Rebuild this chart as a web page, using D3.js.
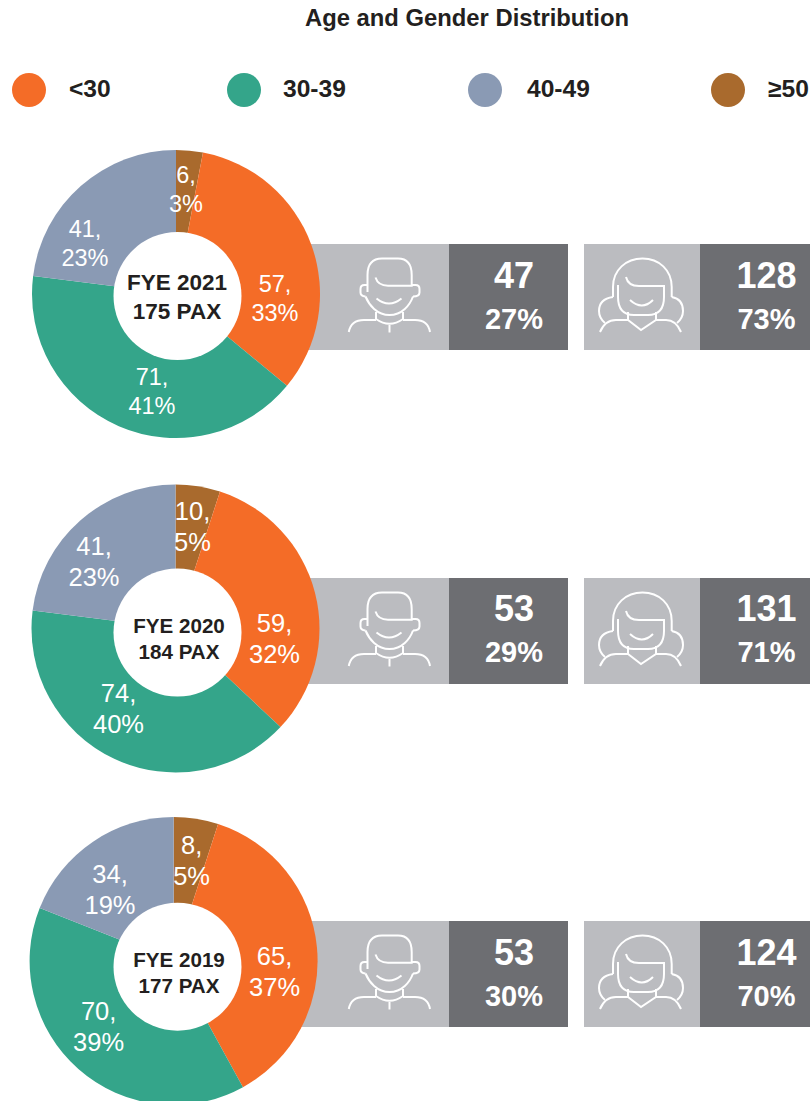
<!DOCTYPE html>
<html>
<head>
<meta charset="utf-8">
<script src="https://cdnjs.cloudflare.com/ajax/libs/d3/7.8.5/d3.min.js"></script>
<style>
  html, body { margin: 0; padding: 0; background: #fff; }
  svg { display: block; }
  text { font-family: "Liberation Sans", Arial, sans-serif; }
</style>
</head>
<body>
<div id="chart"></div>
<script>
var ageGroups = ["<30", "30-39", "40-49", "\u226550"];
var years = ["FYE 2021", "FYE 2020", "FYE 2019"];
var pax = [175, 184, 177];

// counts and percentages, in ageGroups order
var counts2021 = [57, 71, 41, 6],
    counts2020 = [59, 74, 41, 10],
    counts2019 = [65, 70, 34, 8];
var shares2021 = [33, 41, 23, 3],
    shares2020 = [32, 40, 23, 5],
    shares2019 = [37, 39, 19, 5];

var maleCounts = [47, 53, 53],
    maleShares = [27, 29, 30];
var femaleCounts = [128, 131, 124],
    femaleShares = [73, 71, 70];

var ageCounts = [counts2021, counts2020, counts2019];
var ageShares = [shares2021, shares2020, shares2019];

// the pies start with the oldest group at twelve o'clock
var sliceOrder = [3, 0, 1, 2];

var width = 810,
    height = 1101,
    outerRadius = 144,
    holeRadius = 64,
    panelHeight = 106;

var colour = d3.scaleOrdinal()
  .domain(ageGroups)
  .range(["#f46c27", "#34a58a", "#8a9ab4", "#a96a2d"]);

var legendX = d3.scaleOrdinal().domain(ageGroups).range([29, 244, 485, 728]);
var legendTextX = d3.scaleOrdinal().domain(ageGroups).range([69, 283, 527, 768]);

// layout per pie, the source artwork is hand placed so nothing lines up exactly
var pieCentres = [[176, 294], [175.5, 628.5], [173.6, 961]];
var holeCentres = [[177.5, 296], [177.5, 632.5], [177.5, 966.7]];
var panelTops = [244, 578, 921];
var countBase = [288, 621, 965],
    shareBase = [329, 662, 1006];
var labelFont = [23.5, 25.5, 25.5],
    labelGap = [28.5, 31, 31];
var centreFont = [22.5, 20.6, 20.6],
    centreX = [177, 179, 179],
    centreBase = [[290, 319], [633, 659], [966.7, 992.7]];

// first line of each slice label, offset from the pie centre, in ageGroups order
var labelSpots = [
  [[99, -2], [-24, 91], [-91, -57], [10, -111]],
  [[99, 3], [-57, 73], [-81.5, -73.5], [17, -108.5]],
  [[101, 4], [-75, 59], [-63.6, -78], [18, -107]]
];

var maleIcon = [
  "M27.5 47V30Q27.5 13.5 42 13.5H58Q71.7 13.5 71.7 30V40.7H48Q38 40.7 35.5 32.5",
  "M27.5 40H24.5Q20.5 40 20.5 44V47.5Q20.5 51 25.5 51.5",
  "M71.7 40H75.5Q79.5 40 79.5 44V47.5Q79.5 51.5 73 51.5",
  "M25.5 51.5C29 60 37 70 49.5 70C62 70 70 60 73 51.5",
  "M36.5 53.5Q49 63.5 61.5 53.5",
  "M36 67V74Q49.5 83.5 63 74V67",
  "M8.8 87Q11 75 24 75H36",
  "M63 75H75Q88 75 90 87",
  "M49.5 80V87.5"
];

var femaleIcon = [
  "M23 52V42C23 25 36 13.5 52.5 13.5C69 13.5 81.7 25 81.7 42V52",
  "M23 52Q9 54 9 66Q9 73 15 78",
  "M81.7 52Q93 54 93 66Q93 73 87 78",
  "M36 32Q38 41 49 41H74V52Q74 70 58 70H44Q28 70 28 52V40",
  "M40 55Q52 66 63 55",
  "M38 67V75",
  "M66 67V75",
  "M10 87Q15 75 26 75H38L51 85L66 75H76Q86 75 91 87"
];

var svg = d3.select("#chart").append("svg")
  .attr("width", width)
  .attr("height", height);

svg.append("text")
  .attr("x", 467)
  .attr("y", 26)
  .attr("text-anchor", "middle")
  .attr("font-size", 23.8)
  .attr("font-weight", "bold")
  .attr("fill", "#231f20")
  .text("Age and Gender Distribution");

var legend = svg.selectAll(".legend")
  .data(ageGroups)
  .enter().append("g")
  .attr("class", "legend");

legend.append("circle")
  .attr("cx", function (d) { return legendX(d); })
  .attr("cy", 90)
  .attr("r", 17)
  .attr("fill", function (d) { return colour(d); });

legend.append("text")
  .attr("x", function (d) { return legendTextX(d); })
  .attr("y", 97)
  .attr("font-size", 24.6)
  .attr("font-weight", "bold")
  .attr("fill", "#231f20")
  .text(function (d) { return d; });

function drawPanel(g, x, lightWidth, darkWidth, top, mid, i, count, share) {
  g.append("rect")
    .attr("x", x)
    .attr("y", top)
    .attr("width", lightWidth)
    .attr("height", panelHeight)
    .attr("fill", "#bbbcc0");
  g.append("rect")
    .attr("x", x + lightWidth)
    .attr("y", top)
    .attr("width", darkWidth)
    .attr("height", panelHeight)
    .attr("fill", "#6d6e72");
  g.append("text")
    .attr("x", mid)
    .attr("y", countBase[i])
    .attr("text-anchor", "middle")
    .attr("font-size", 36)
    .attr("font-weight", "bold")
    .attr("fill", "#fff")
    .text(count);
  g.append("text")
    .attr("x", mid)
    .attr("y", shareBase[i])
    .attr("text-anchor", "middle")
    .attr("font-size", 29)
    .attr("font-weight", "bold")
    .attr("fill", "#fff")
    .text(share + "%");
}

function drawIcon(g, paths, x, y) {
  g.append("g")
    .attr("transform", "translate(" + x + "," + y + ")")
    .selectAll("path")
    .data(paths)
    .enter().append("path")
    .attr("d", function (d) { return d; })
    .attr("fill", "none")
    .attr("stroke", "#fff")
    .attr("stroke-width", 2);
}

// the wedges follow the rounded percentages, not the head counts
var pie = d3.pie()
  .sort(null)
  .value(function (d) { return d.share; });

var arc = d3.arc()
  .innerRadius(0)
  .outerRadius(outerRadius);

years.forEach(function (year, i) {
  var row = svg.append("g").attr("class", "row");
  var top = panelTops[i];

  // grey strips go first, the pie sits on top of them
  drawPanel(row, 290, 159, 119, top, 514, i, maleCounts[i], maleShares[i]);
  drawPanel(row, 584, 116, 110, top, 766.5, i, femaleCounts[i], femaleShares[i]);
  drawIcon(row, maleIcon, 340, top + 1);
  drawIcon(row, femaleIcon, 590, top + 1);

  var slices = sliceOrder.map(function (k) {
    return { group: ageGroups[k], index: k, count: ageCounts[i][k], share: ageShares[i][k] };
  });

  var pieG = row.append("g")
    .attr("transform", "translate(" + pieCentres[i][0] + "," + pieCentres[i][1] + ")");

  pieG.selectAll("path")
    .data(pie(slices))
    .enter().append("path")
    .attr("d", arc)
    .attr("fill", function (d) { return colour(d.data.group); });

  var label = pieG.selectAll("text")
    .data(slices)
    .enter().append("text")
    .attr("text-anchor", "middle")
    .attr("font-size", labelFont[i])
    .attr("fill", "#fff");

  label.append("tspan")
    .attr("x", function (d) { return labelSpots[i][d.index][0]; })
    .attr("y", function (d) { return labelSpots[i][d.index][1]; })
    .text(function (d) { return d.count + ","; });

  label.append("tspan")
    .attr("x", function (d) { return labelSpots[i][d.index][0]; })
    .attr("y", function (d) { return labelSpots[i][d.index][1] + labelGap[i]; })
    .text(function (d) { return d.share + "%"; });

  row.append("circle")
    .attr("cx", holeCentres[i][0])
    .attr("cy", holeCentres[i][1])
    .attr("r", holeRadius)
    .attr("fill", "#fff");

  row.selectAll(".centre")
    .data([year, pax[i] + " PAX"])
    .enter().append("text")
    .attr("class", "centre")
    .attr("x", centreX[i])
    .attr("y", function (d, j) { return centreBase[i][j]; })
    .attr("text-anchor", "middle")
    .attr("font-size", centreFont[i])
    .attr("font-weight", "bold")
    .attr("fill", "#231f20")
    .text(function (d) { return d; });
});
</script>
</body>
</html>
